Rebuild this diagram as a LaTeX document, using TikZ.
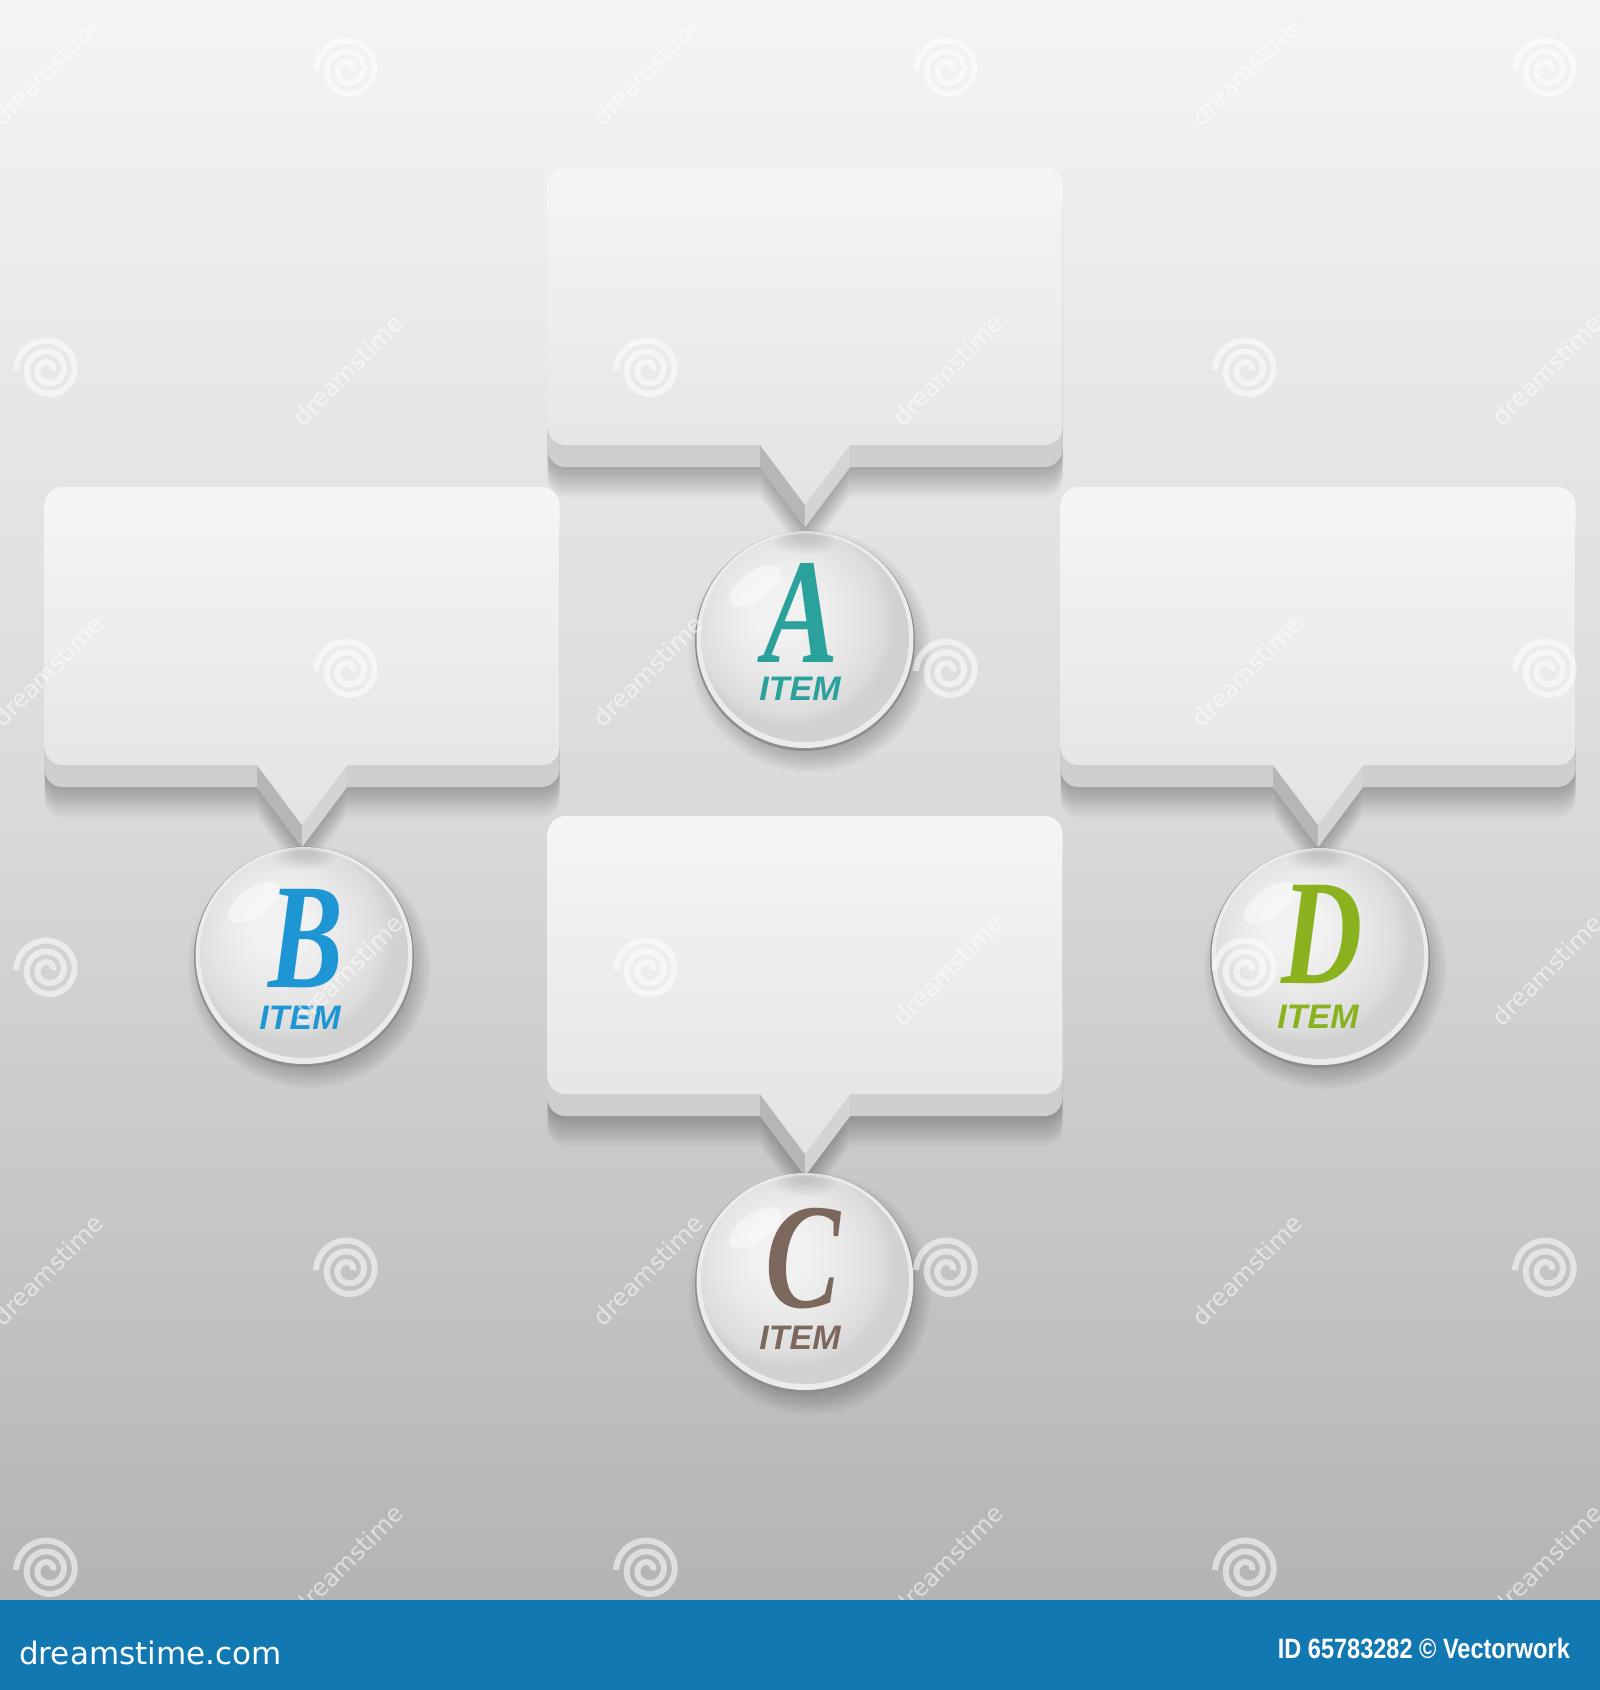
\documentclass[tikz,border=0pt]{standalone}
\usepackage{fontspec}
\setmainfont{Liberation Sans}
\newfontfamily\letterfont{Liberation Serif}
\newfontfamily\wmfont{DejaVu Sans}
\definecolor{bgtop}{HTML}{F4F4F4}
\definecolor{bgmid}{HTML}{DADADA}
\definecolor{bgbot}{HTML}{B4B4B4}
\definecolor{facetop}{HTML}{F5F5F5}
\definecolor{facebot}{HTML}{E3E3E3}
\definecolor{bandtop}{HTML}{C2C2C2}
\definecolor{bandbot}{HTML}{D2D2D2}
\definecolor{vleft}{HTML}{B6B6B6}
\definecolor{vright}{HTML}{D4D4D4}
\definecolor{barblue}{HTML}{1178B1}
\definecolor{colA}{HTML}{2AA19B}
\definecolor{colB}{HTML}{1F96D4}
\definecolor{colC}{HTML}{7B675C}
\definecolor{colD}{HTML}{8AB21E}
\definecolor{btn1}{HTML}{F1F1F1}
\definecolor{btn2}{HTML}{E7E7E7}
\definecolor{btn3}{HTML}{DCDCDC}
\definecolor{btn4}{HTML}{D1D1D1}
\definecolor{btnrim}{HTML}{8E8E8E}
\definecolor{btnrimlight}{HTML}{EBEBEB}
% TikZ maps a path's bounding box to the middle 50bp of a 100bp shading
\pgfdeclareradialshading{btnface}{\pgfpoint{-7bp}{8bp}}{color(0bp)=(btn1); color(7bp)=(btn1); color(16bp)=(btn2); color(22.5bp)=(btn3); color(25bp)=(btn4); color(50bp)=(btn4)}
\pgfdeclareverticalshading{bgshade}{100bp}{color(0bp)=(bgbot); color(25bp)=(bgbot); color(50bp)=(bgmid); color(75bp)=(bgtop); color(100bp)=(bgtop)}

% bubble: #1 name, #2 centre x, #3 top y (image pixels, y downward)
\newcommand\mkbubble[3]{%
  \begin{scope}[shift={(#2,-#3)}]
    \foreach \k in {1,...,10}{\fill[black,opacity=0.028,yshift=-(22+3*\k)] [bshape];}
    \path[yshift=-22, top color=bandtop, bottom color=bandbot] [bshape];
    \fill[vleft] (-45,-278) -- (0,-338) -- (0,-360) -- (-45,-300) -- cycle;
    \fill[vright] (45,-278) -- (0,-338) -- (0,-360) -- (45,-300) -- cycle;
    \path[top color=facetop, bottom color=facebot] [bshape];
    \coordinate (#1) at (0,-139);
  \end{scope}}

% button: #1 name, #2 x, #3 y, #4 colour, #5 letter,
% #6 letter x, #7 letter baseline offset, #8 ITEM x, #9 ITEM baseline offset
\newcommand\mkbutton[9]{%
  \foreach \k in {1,...,7}{\fill[black,opacity=0.03] (#2+5,-#3-10) circle[radius=100+3*\k];}
  \fill[btnrim] (#2,-#3) circle[radius=110];
  \fill[btnrimlight] (#2,-#3+1.5) circle[radius=108.5];
  \path[shading=btnface] (#2,-#3+3) circle[radius=104];
  \foreach \k in {1,...,5}{\fill[black,opacity=0.025] (#2,-#3+104-\k) ellipse[x radius=6+5*\k,y radius=2+2*\k];}
  \fill[white,opacity=0.45] (#2-50,-#3+55) ellipse[x radius=30,y radius=14,rotate=35];
  \node[circle,minimum size=220,inner sep=0pt] (#1) at (#2,-#3) {};
  \node[text=#4,inner sep=0pt,anchor=base,xscale=0.75,transform shape,font=\letterfont\bfseries\itshape\fontsize{150}{150}\selectfont] (#1L) at (#6,-#3-#7) {#5};
  \node[text=#4,inner sep=0pt,anchor=base,font=\bfseries\itshape\fontsize{34}{34}\selectfont] (#1T) at (#8,-#3-#9) {ITEM};
}

\newcommand\spiral[2]{%
  \draw[white,opacity=0.55,line width=6] plot[domain=0:900,samples=90,smooth] ({#1+(5+\x/900*27)*cos(\x)},{-#2+(5+\x/900*27)*sin(\x)});}
\newcommand\wmtext[2]{%
  \node[white,opacity=0.55,rotate=45,font=\wmfont\fontsize{24}{24}\selectfont] at (#1,-#2) {dreamstime};}

\begin{document}
\begin{tikzpicture}[x=1pt,y=1pt,
  bshape/.style={insert path={(-257.5,-18) arc[start angle=180,end angle=90,radius=18] -- (239.5,0) arc[start angle=90,end angle=0,radius=18] -- (257.5,-260) arc[start angle=0,end angle=-90,radius=18] -- (45,-278) -- (0,-338) -- (-45,-278) -- (-239.5,-278) arc[start angle=270,end angle=180,radius=18] -- cycle}}]
\useasboundingbox (0,0) rectangle (1600,-1690);
% background
\path[shading=bgshade] (0,0) rectangle (1600,-1600);

% bubbles
\mkbubble{bA}{805}{167}
\mkbubble{bB}{302}{487}
\mkbubble{bD}{1318}{487}
\mkbubble{bC}{805}{816}

% buttons
\mkbutton{cA}{805}{641}{colA}{A}{801}{21}{800}{59}
\mkbutton{cB}{304}{957}{colB}{B}{306}{30}{300}{72}
\mkbutton{cD}{1320}{958}{colD}{D}{1322}{25}{1318}{70}
\mkbutton{cC}{805}{1283}{colC}{C}{803}{24}{800}{66}

% watermark
\foreach \sx/\sy in {348/70,948/70,1547/70,48/370,648/370,1247/370,348/671,948/671,1547/671,48/970,648/970,1247/970,348/1270,948/1270,1547/1270,48/1570,648/1570,1247/1570}{\spiral{\sx}{\sy}}
\foreach \tx/\ty in {48/70,648/70,1247/70,348/370,948/370,1547/370,48/671,648/671,1247/671,348/970,948/970,1547/970,48/1270,648/1270,1247/1270,348/1560,948/1560,1547/1560}{\wmtext{\tx}{\ty}}

% bottom bar
\fill[barblue] (0,-1600) rectangle (1600,-1690);
\node[white,anchor=west,inner sep=0pt,font=\wmfont\fontsize{31}{31}\selectfont] (logo) at (19,-1653) {dreamstime.com};
\node[white,anchor=east,inner sep=0pt,xscale=0.84,transform shape,font=\bfseries\fontsize{28}{28}\selectfont] (credit) at (1570,-1648) {ID 65783282 © Vectorwork};
\end{tikzpicture}
\end{document}
